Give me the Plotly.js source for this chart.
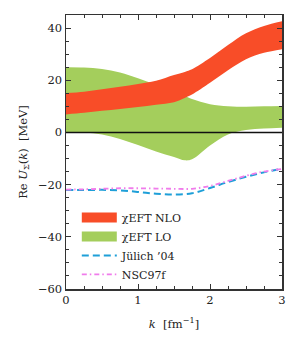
<!DOCTYPE html>
<html>
<head>
<meta charset="utf-8">
<script src="https://cdn.plot.ly/plotly-3.0.1.min.js"></script>
<style>html,body{margin:0;padding:0;background:#fff;}#chart{width:301px;height:344px;}</style>
</head>
<body>
<div id="chart"></div>
<script>
// band grid (k in fm^-1)
const kBand = [0, 0.25, 0.5, 0.75, 1.0, 1.25, 1.5, 1.65, 1.75, 2.0, 2.25, 2.5, 2.75, 3.0];
const nloUpper = [15.1, 15.6, 16.5, 17.5, 18.6, 19.8, 22.0, 23.2, 24.2, 28.5, 33.5, 38.0, 40.8, 42.6];
const nloLower = [6.9, 7.5, 8.3, 9.0, 9.7, 10.6, 11.6, 13.2, 14.5, 19.0, 23.8, 28.0, 30.5, 31.9];
const loUpper = [25.0, 24.9, 24.3, 23.0, 20.8, 18.3, 15.5, 14.0, 12.8, 10.8, 10.0, 9.8, 10.0, 10.1];
const loLower = [0.2, 0.0, -0.8, -2.5, -4.8, -7.3, -9.4, -10.7, -10.3, -5.0, -0.8, 0.9, 1.5, 1.8];
// model curves
const kCurve = [0, 0.25, 0.5, 0.75, 1.0, 1.25, 1.5, 1.75, 2.0, 2.25, 2.5, 2.75, 3.0];
const juelich = [-22.1, -22.1, -22.0, -22.2, -22.8, -23.5, -23.8, -23.3, -21.3, -19.0, -17.0, -15.3, -13.9];
const nsc97f = [-21.9, -21.8, -21.6, -21.4, -21.4, -21.5, -21.6, -21.6, -20.5, -18.6, -16.6, -15.0, -14.0];
const names = ["χEFT NLO", "χEFT LO", "Jülich ’04", "NSC97f"];

const RED = "#F84D28", GREEN = "#A4CE5C", BLUE = "#1E9FD8", MAG = "#F07CEB";
const FONT = "DejaVu Serif";

const traces = [
  {x: kBand, y: loLower, mode: "lines", line: {width: 0, shape: "spline"}, showlegend: false, hoverinfo: "skip"},
  {x: kBand, y: loUpper, mode: "lines", line: {width: 0, shape: "spline"}, fill: "tonexty", fillcolor: GREEN, showlegend: false, hoverinfo: "skip"},
  {x: kBand, y: nloLower, mode: "lines", line: {width: 0, shape: "spline"}, showlegend: false, hoverinfo: "skip"},
  {x: kBand, y: nloUpper, mode: "lines", line: {width: 0, shape: "spline"}, fill: "tonexty", fillcolor: RED, showlegend: false, hoverinfo: "skip"},
  // legend swatches for the bands
  {x: [null], y: [null], mode: "lines", line: {color: RED, width: 10}, name: names[0]},
  {x: [null], y: [null], mode: "lines", line: {color: GREEN, width: 10}, name: names[1]},
  {x: kCurve, y: juelich, mode: "lines", line: {color: BLUE, width: 2, dash: "7px,4px", shape: "spline"}, name: names[2]},
  {x: kCurve, y: nsc97f, mode: "lines", line: {color: MAG, width: 1.8, dash: "5px,3px,1.5px,3px", shape: "spline"}, name: names[3]}
];

const layout = {
  width: 301, height: 344,
  margin: {l: 66, r: 19, t: 15, b: 55},
  paper_bgcolor: "#fff", plot_bgcolor: "#fff",
  font: {family: FONT, size: 11, color: "#222"},
  showlegend: true,
  legend: {x: 0.05, y: 0.314, xanchor: "left", yanchor: "top", traceorder: "normal", itemwidth: 35, bgcolor: "rgba(0,0,0,0)", font: {family: FONT, size: 11, color: "#222"}, tracegroupgap: 0},
  xaxis: {
    range: [0, 3], tickvals: [0, 1, 2, 3], ticktext: ["0", "1", "2", "3"],
    ticks: "inside", ticklen: 5, tickwidth: 1, tickcolor: "#333",
    minor: {dtick: 0.25, ticks: "inside", ticklen: 3, tickcolor: "#333", showgrid: false},
    showline: true, linecolor: "#333", linewidth: 1.5, mirror: "allticks",
    showgrid: false, zeroline: false,
    title: {text: "<i>k</i>  [fm<sup>−1</sup>]", font: {family: FONT, size: 11.5}, standoff: 13},
    tickfont: {family: FONT, size: 11.5}
  },
  yaxis: {
    range: [-60, 45], tickvals: [-60, -40, -20, 0, 20, 40],
    ticks: "inside", ticklen: 5, tickwidth: 1, tickcolor: "#333",
    minor: {dtick: 5, ticks: "inside", ticklen: 3, tickcolor: "#333", showgrid: false},
    showline: true, linecolor: "#333", linewidth: 1.5, mirror: "allticks",
    showgrid: false, zeroline: false,
    title: {text: "Re <i>U</i><sub>Σ</sub>(<i>k</i>)  [MeV]", font: {family: FONT, size: 11.5}, standoff: 8},
    tickfont: {family: FONT, size: 11.5}
  },
  shapes: [
    {type: "line", xref: "paper", x0: 0, x1: 1, yref: "y", y0: 0, y1: 0, line: {color: "#111", width: 1.5}, layer: "above"}
  ]
};

Plotly.newPlot("chart", traces, layout, {staticPlot: true, displayModeBar: false});
</script>
</body>
</html>
